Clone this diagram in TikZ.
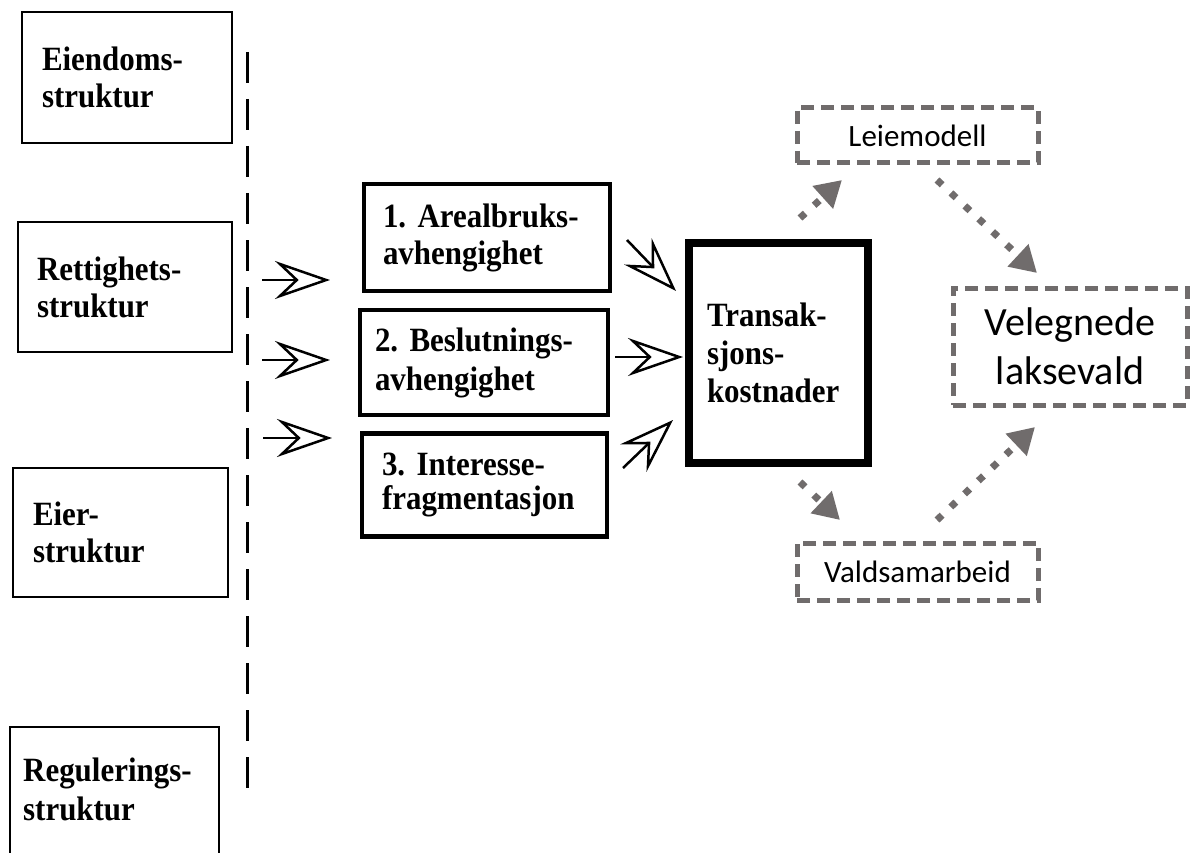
\documentclass[tikz,border=0pt]{standalone}
\usepackage{fontspec}
\setmainfont{Liberation Serif}[FakeStretch=0.91]
\newfontfamily\calib{Carlito}
\usetikzlibrary{arrows.meta}
\definecolor{dgray}{RGB}{112,108,108}
\frenchspacing
\begin{document}
\begin{tikzpicture}[x=1pt,y=-1pt,
  serifbox/.style={draw, inner sep=0pt, align=left, font=\fontsize{34}{37}\selectfont\bfseries},
  lbox/.style={serifbox, line width=2.5pt},
  mbox/.style={serifbox, line width=4.5pt},
  tbox/.style={serifbox, line width=8pt},
  gbox/.style={draw=dgray, line width=5pt, dash pattern=on 13pt off 7pt, inner sep=0pt, align=center, font=\calib\fontsize{31}{37}\selectfont},
  openarrow/.style={line width=2.5pt, -{Stealth[open, length=55pt, width=38pt, inset=20pt]}},
  dotarrow/.style={dgray, line width=7pt, dash pattern=on 7pt off 12pt, -{Triangle[length=26pt, width=29pt]}},
]
\useasboundingbox (0,0) rectangle (1196,853);
\fill[white] (0,0) rectangle (1196,853);
\clip (0,0) rectangle (1196,853);

% left boxes
\node[lbox, minimum width=210pt, minimum height=131pt, text width=170pt] (eiend) at (127,77.5) {Eiendoms-\\struktur};
\node[lbox, minimum width=214pt, minimum height=130pt, text width=176pt] (rett) at (125,287) {Rettighets-\\struktur};
\node[lbox, minimum width=215pt, minimum height=129pt, text width=175pt] (eier) at (120.5,532.5) {Eier-\\struktur};
\node[lbox, minimum width=209pt, minimum height=153pt] (regul) at (114.5,803.5) {};
\node[anchor=west, align=left, inner sep=0pt, font=\fontsize{34}{39}\selectfont\bfseries] (regult) at (23,789) {Regulerings-\\struktur};

% divider
\coordinate (dtop) at (247,52);
\coordinate (dbot) at (247,790);
\draw[line width=3pt, dash pattern=on 31pt off 16pt] (dtop) -- (dbot);

% middle boxes
\node[mbox, minimum width=246pt, minimum height=107pt, text width=208pt] (b1) at (487,237.5) {1. Arealbruks-\\avhengighet};
\node[mbox, minimum width=248pt, minimum height=105pt, text width=218pt, font=\fontsize{34}{39}\selectfont\bfseries] (b2) at (484,362.5) {2. Beslutnings-\\avhengighet};
\node[mbox, minimum width=245pt, minimum height=103pt, text width=205pt, font=\fontsize{34}{34}\selectfont\bfseries] (b3) at (484.5,485) {3. Interesse-\\fragmentasjon};

% transaction cost box
\node[tbox, minimum width=179pt, minimum height=220pt, text width=143pt, font=\fontsize{34}{38}\selectfont\bfseries] (trans) at (778.5,353) {Transak-\\sjons-\\kostnader};

% right dashed boxes
\node[gbox, minimum width=241pt, minimum height=55pt] (leie) at (917.5,135.5) {Leiemodell};
\node[gbox, minimum width=234pt, minimum height=117pt, font=\calib\fontsize{40}{49}\selectfont] (vel) at (1070,346.5) {Velegnede\\laksevald};
\node[gbox, minimum width=241pt, minimum height=57pt] (valds) at (917.5,571.5) {Valdsamarbeid};

% open arrows
\coordinate (a1s) at (262,280); \coordinate (a1e) at (330,280);
\coordinate (a2s) at (262,360); \coordinate (a2e) at (330,360);
\coordinate (a3s) at (263,438); \coordinate (a3e) at (332,438);
\coordinate (a4s) at (627,240); \coordinate (a4e) at (676,291);
\coordinate (a5s) at (615,357); \coordinate (a5e) at (683,357);
\coordinate (a6s) at (623,468); \coordinate (a6e) at (673,420);
\draw[openarrow] (a1s) -- (a1e);
\draw[openarrow] (a2s) -- (a2e);
\draw[openarrow] (a3s) -- (a3e);
\draw[openarrow] (a4s) -- (a4e);
\draw[openarrow] (a5s) -- (a5e);
\draw[openarrow] (a6s) -- (a6e);

% dotted gray arrows
\coordinate (d1s) at (800,218); \coordinate (d1e) at (842,180);
\coordinate (d2s) at (937,180); \coordinate (d2e) at (1037,273);
\coordinate (d3s) at (800,482); \coordinate (d3e) at (840,520);
\coordinate (d4s) at (937,520); \coordinate (d4e) at (1035,427);
\draw[dotarrow] (d1s) -- (d1e);
\draw[dotarrow] (d2s) -- (d2e);
\draw[dotarrow] (d3s) -- (d3e);
\draw[dotarrow] (d4s) -- (d4e);
\end{tikzpicture}
\end{document}
